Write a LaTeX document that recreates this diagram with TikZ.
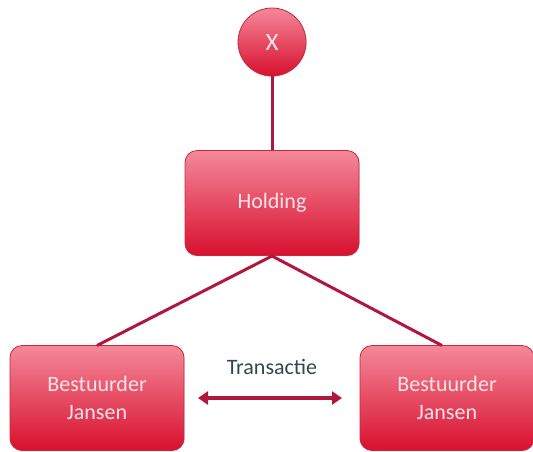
\documentclass[tikz,border=0pt]{standalone}
\usepackage{fontspec}
\setmainfont{Carlito}
\usetikzlibrary{arrows.meta,shadows}
\definecolor{boxtop}{HTML}{F4889A}
\definecolor{boxbot}{HTML}{D8102E}
\definecolor{boxedge}{HTML}{C8283F}
\definecolor{linkred}{HTML}{B0173C}
\definecolor{txtlight}{HTML}{FCE4E8}
\definecolor{txtdark}{HTML}{2E4A50}
\tikzset{
  entity/.style={draw=boxedge, line width=0.8pt, top color=boxtop, bottom color=boxbot,
    rounded corners=12pt, minimum width=174pt, minimum height=105pt, align=center,
    text=txtlight, font=\fontsize{22}{28}\selectfont, inner sep=0pt,
    drop shadow={shadow xshift=0.8pt, shadow yshift=-0.8pt, opacity=0.25}},
  person/.style={draw=boxedge, line width=0.8pt, circle, top color=boxtop, bottom color=boxbot,
    minimum size=68pt, inner sep=0pt, text=txtlight, font=\fontsize{25}{30}\selectfont,
    drop shadow={shadow xshift=0.8pt, shadow yshift=-0.8pt, opacity=0.25}},
  link/.style={draw=linkred, line width=3pt},
  flow/.style={draw=linkred, line width=3.8pt, {Triangle[length=10pt,width=13pt]}-{Triangle[length=10pt,width=13pt]}},
}
\begin{document}
\begin{tikzpicture}[x=1pt,y=-1pt]
\useasboundingbox (0,0) rectangle (533,451);
\node[person] (x) at (272,42) {X};
\node[entity] (hold) at (272,203) {Holding};
\node[entity] (left) at (97,398) {Bestuurder\\Jansen};
\node[entity] (right) at (447,398) {Bestuurder\\Jansen};
\coordinate (hb) at (272,256);
\coordinate (lt) at (97,345.5);
\coordinate (rt) at (442,345.5);
\draw[link] (x.south) -- (hold.north);
\draw[link] (hb) -- (lt);
\draw[link] (hb) -- (rt);
\node[text=txtdark, font=\fontsize{22}{28}\selectfont] (tr) at (272,367) {Transac\kern0pt tie};
\coordinate (al) at (198,398);
\coordinate (ar) at (342,398);
\draw[flow] (al) -- (ar);
\end{tikzpicture}
\end{document}
